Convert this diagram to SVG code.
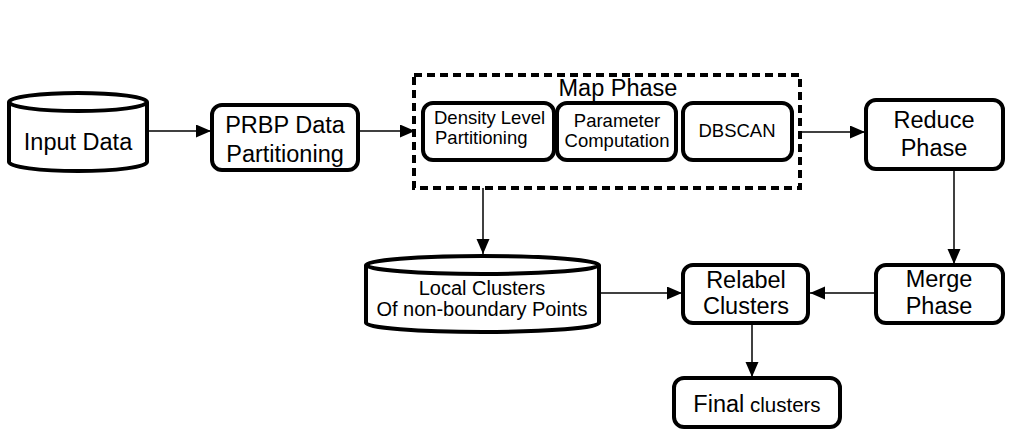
<svg xmlns="http://www.w3.org/2000/svg" width="1014" height="444" viewBox="0 0 1014 444">
<defs>
<marker id="ah" markerUnits="userSpaceOnUse" markerWidth="16" markerHeight="14" refX="15" refY="6.5" orient="auto">
<path d="M0,0 L15,6.5 L0,13 Z" fill="#000"/>
</marker>
</defs>
<style>
.box{fill:#fff;stroke:#000;stroke-width:4}
.t{font-family:"Liberation Sans",Arial,sans-serif;fill:#000;text-anchor:middle}
.l{font-size:23.5px}
.m{font-size:20px}
.s{font-size:18.5px}
.c{fill:none;stroke:#000;stroke-width:1.5}
</style>
<rect width="1014" height="444" fill="#fff"/>
<g id="connectors">
<line class="c" x1="147" y1="131" x2="211" y2="131" marker-end="url(#ah)"/>
<line class="c" x1="358" y1="131" x2="415" y2="131" marker-end="url(#ah)"/>
<line class="c" x1="800" y1="132" x2="865" y2="132" marker-end="url(#ah)"/>
<line class="c" x1="954" y1="169" x2="954" y2="264" marker-end="url(#ah)"/>
<line class="c" x1="876" y1="293" x2="810" y2="293" marker-end="url(#ah)"/>
<line class="c" x1="483" y1="188" x2="483" y2="254" marker-end="url(#ah)"/>
<line class="c" x1="599" y1="293" x2="682" y2="293" marker-end="url(#ah)"/>
<line class="c" x1="752" y1="323" x2="752" y2="377" marker-end="url(#ah)"/>
</g>
<g id="input-data">
<path class="box" d="M9,102 L9,162 A69,9 0 0 0 147,162 L147,102 A69,9 0 0 0 9,102 A69,9 0 0 0 147,102"/>
<text class="t l" x="78" y="150">Input Data</text>
</g>
<g id="prbp">
<rect class="box" x="212" y="105" width="146" height="65" rx="10"/>
<text class="t l" x="285" y="133">PRBP Data</text>
<text class="t l" x="285" y="162">Partitioning</text>
</g>
<g id="map-phase">
<rect x="414" y="75" width="386" height="113" fill="none" stroke="#000" stroke-width="4" stroke-dasharray="8,5"/>
<text class="t l" x="618" y="96">Map Phase</text>
</g>
<g id="density">
<rect class="box" x="423" y="103" width="131" height="57" rx="10"/>
<text class="t s" x="434" y="124" style="text-anchor:start">Density Level</text>
<text class="t s" x="435" y="144" style="text-anchor:start">Partitioning</text>
</g>
<g id="parameter">
<rect class="box" x="557" y="103" width="119" height="57" rx="10"/>
<text class="t s" x="617" y="127">Parameter</text>
<text class="t s" x="617" y="147">Computation</text>
</g>
<g id="dbscan">
<rect class="box" x="683" y="103" width="109" height="57" rx="10"/>
<text class="t s" x="737" y="137">DBSCAN</text>
</g>
<g id="reduce">
<rect class="box" x="866" y="100" width="137" height="69" rx="10"/>
<text class="t l" x="934" y="128">Reduce</text>
<text class="t l" x="934" y="156">Phase</text>
</g>
<g id="merge">
<rect class="box" x="876" y="265" width="127" height="58" rx="10"/>
<text class="t l" x="939" y="287">Merge</text>
<text class="t l" x="939" y="314">Phase</text>
</g>
<g id="local-clusters">
<path class="box" d="M366,265 L366,323 A116.5,9 0 0 0 599,323 L599,265 A116.5,9 0 0 0 366,265 A116.5,9 0 0 0 599,265"/>
<text class="t m" x="482" y="295">Local Clusters</text>
<text class="t m" x="482" y="316">Of non-boundary Points</text>
</g>
<g id="relabel">
<rect class="box" x="683" y="265" width="125" height="58" rx="10"/>
<text class="t l" x="746" y="288">Relabel</text>
<text class="t l" x="746" y="314">Clusters</text>
</g>
<g id="final">
<rect class="box" x="674" y="378" width="166" height="49" rx="10"/>
<text class="t" x="757" y="412"><tspan font-size="23.5px">Final</tspan><tspan font-size="20.5px"> clusters</tspan></text>
</g>
</svg>
